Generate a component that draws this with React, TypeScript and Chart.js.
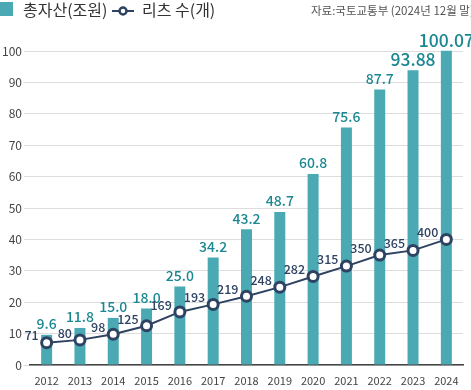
import React, { useEffect, useRef } from "react";
import { Chart, registerables } from "chart.js";

Chart.register(...registerables);

const years = ["2012","2013","2014","2015","2016","2017","2018","2019","2020","2021","2022","2023","2024"];
const totalAssets = [9.6, 11.8, 15.0, 18.0, 25.0, 34.2, 43.2, 48.7, 60.8, 75.6, 87.7, 93.88, 100.07];
const assetLabels = ["9.6","11.8","15.0","18.0","25.0","34.2","43.2","48.7","60.8","75.6","87.7","93.88","100.07"];
const reitCounts = [71, 80, 98, 125, 169, 193, 219, 248, 282, 315, 350, 365, 400];
const yTicks = [0, 10, 20, 30, 40, 50, 60, 70, 80, 90, 100];

const BAR = "#4aa9b2";
const BAR_LABEL = "#1b8891";
const LINE = "#2e4262";
const FONT = "'Noto Sans CJK KR', 'Noto Sans', sans-serif";

const labelPlugin = {
  id: "labels",
  afterDatasetsDraw(chart: any) {
    const ctx = chart.ctx;
    const barMeta = chart.getDatasetMeta(1);
    const lineMeta = chart.getDatasetMeta(0);
    ctx.save();
    barMeta.data.forEach((el: any, i: number) => {
      const big = i >= 11;
      ctx.font = `500 ${big ? 17.5 : 14}px ${FONT}`;
      ctx.fillStyle = BAR_LABEL;
      ctx.textAlign = "center";
      ctx.textBaseline = "bottom";
      ctx.fillText(assetLabels[i], el.x, el.y - (big ? 2 : 4));
    });
    lineMeta.data.forEach((el: any, i: number) => {
      ctx.font = `500 12.5px ${FONT}`;
      ctx.fillStyle = LINE;
      ctx.textAlign = "right";
      ctx.textBaseline = "middle";
      ctx.fillText(String(reitCounts[i]), el.x - 8, el.y - 7);
    });
    ctx.restore();
  },
  afterDraw(chart: any) {
    const ctx = chart.ctx;
    ctx.save();
    ctx.fillStyle = BAR;
    ctx.fillRect(0, 2, 13, 14);
    ctx.font = `400 16px ${FONT}`;
    ctx.fillStyle = "#333";
    ctx.textAlign = "left";
    ctx.textBaseline = "middle";
    ctx.fillText("총자산(조원)", 23, 10);
    ctx.strokeStyle = LINE;
    ctx.lineWidth = 2;
    ctx.beginPath();
    ctx.moveTo(112, 11);
    ctx.lineTo(134, 11);
    ctx.stroke();
    ctx.beginPath();
    ctx.arc(123, 11, 3.5, 0, Math.PI * 2);
    ctx.fillStyle = "#fff";
    ctx.fill();
    ctx.lineWidth = 2.5;
    ctx.stroke();
    ctx.fillStyle = "#333";
    ctx.fillText("리츠 수(개)", 142, 10);
    ctx.font = `400 11.5px ${FONT}`;
    ctx.fillStyle = "#555";
    ctx.textAlign = "left";
    ctx.fillText("자료:국토교통부 (2024년 12월 말)", 311, 11);
    ctx.restore();
  },
};

export default function App() {
  const ref = useRef<HTMLCanvasElement>(null);
  useEffect(() => {
    const chart = new Chart(ref.current as HTMLCanvasElement, {
      data: {
        labels: years,
        datasets: [
          {
            type: "line",
            label: "리츠 수(개)",
            data: reitCounts.map((v) => v / 10),
            borderColor: LINE,
            borderWidth: 2,
            pointRadius: 5,
            pointBorderWidth: 3,
            pointBackgroundColor: "#fff",
            pointBorderColor: LINE,
            tension: 0,
            order: 0,
          },
          {
            type: "bar",
            label: "총자산(조원)",
            data: totalAssets,
            backgroundColor: BAR,
            barPercentage: 0.33,
            categoryPercentage: 1,
            clip: false as any,
            order: 1,
          },
        ],
      } as any,
      options: {
        animation: false,
        responsive: false,
        maintainAspectRatio: false,
        layout: { padding: { top: 51, right: 0, left: 0, bottom: 0 } },
        plugins: { legend: { display: false }, tooltip: { enabled: false } },
        scales: {
          x: {
            grid: { display: false, drawTicks: false },
            border: { display: true, color: "#444", width: 1.5 },
            ticks: { color: "#444", font: { family: FONT, size: 11 }, padding: 9 },
            afterFit: (axis: any) => {
              axis.height = 25;
            },
          },
          y: {
            min: 0,
            max: 100,
            afterBuildTicks: (axis: any) => {
              axis.ticks = yTicks.map((v) => ({ value: v }));
            },
            grid: { color: "#dddddd", tickLength: 6, drawTicks: true },
            border: { display: false },
            ticks: { color: "#444", font: { family: FONT, size: 12 }, padding: 2 },
          },
        },
      } as any,
      plugins: [labelPlugin],
    });
    return () => chart.destroy();
  }, []);
  return (
    <div style={{ position: "fixed", left: 0, top: 0, width: 471, height: 390, background: "#fff" }}>
      <canvas ref={ref} width={471} height={390} style={{ width: 471, height: 390 }} />
    </div>
  );
}
